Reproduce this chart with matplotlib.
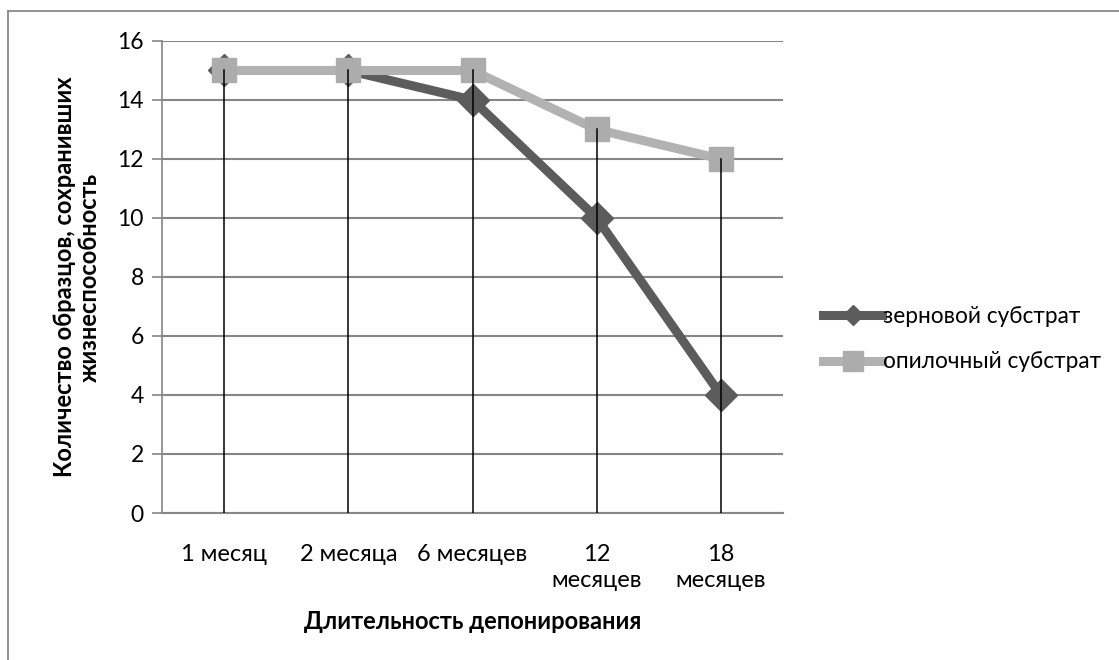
import matplotlib
matplotlib.use("Agg")
import matplotlib.pyplot as plt
from matplotlib.lines import Line2D

categories = ["1 месяц", "2 месяца", "6 месяцев", "12\nмесяцев", "18\nмесяцев"]
grain = [15, 15, 14, 10, 4]
sawdust = [15, 15, 15, 13, 12]
series_names = ["зерновой субстрат", "опилочный субстрат"]
y_ticks = [0, 2, 4, 6, 8, 10, 12, 14, 16]

plt.rcParams['font.family'] = ['Lato', 'DejaVu Sans']

fig = plt.figure(figsize=(11.19, 6.6), dpi=100)
W, H = 1119, 660
ax = fig.add_axes([162 / W, 1 - 513 / H, (783 - 162) / W, (513 - 41) / H])

x = list(range(len(categories)))
dark = "#5c5c5c"
light = "#b2b2b2"

ax.plot(x, grain, color=dark, lw=6.5, marker="D", ms=16, mfc=dark, mec=dark, zorder=3)
ax.plot(x, sawdust, color=light, lw=6.5, marker="s", ms=17, mfc="#acacac", mec="#acacac", zorder=4)

tops = [max(a, b) for a, b in zip(grain, sawdust)]
for i, t in enumerate(tops):
    ax.plot([x[i], x[i]], [0, t], color="black", lw=1.1, zorder=5)

ax.set_xlim(-0.5, len(categories) - 0.5)
ax.set_ylim(0, 16)
ax.set_yticks(y_ticks)
ax.set_xticks(x)
ax.set_xticklabels(categories, fontsize=17, linespacing=1.3)
ax.tick_params(axis="x", length=0, pad=22)
ax.tick_params(axis="y", length=7, color="#868686", width=1.2, labelsize=16.5, pad=6)
ax.yaxis.grid(True, color="#868686", lw=1.5)
ax.set_axisbelow(True)
for s in ["top", "right"]:
    ax.spines[s].set_visible(False)
ax.spines["left"].set_color("#868686")
ax.spines["left"].set_linewidth(1.2)
ax.spines["bottom"].set_color("#868686")
ax.spines["bottom"].set_linewidth(1.5)

ax.set_xlabel("Длительность депонирования", fontsize=17, fontweight="bold", labelpad=14)
ax.set_ylabel("Количество образцов, сохранивших\nжизнеспособность", fontsize=17,
              fontweight="bold", labelpad=12, linespacing=1.1)

handles = [
    Line2D([0], [0], color=dark, lw=6.5, marker="D", ms=10, mfc=dark, mec=dark),
    Line2D([0], [0], color=light, lw=6.5, marker="s", ms=14, mfc="#acacac", mec="#acacac"),
]
fig.legend(handles, series_names, loc="center left", bbox_to_anchor=(803 / W, 1 - 339 / H),
           frameon=False, fontsize=16.3, handlelength=2.6, handletextpad=0.05, labelspacing=1.1)

# chart-area border (top and left edges visible)
fig.add_artist(Line2D([8 / W, 8 / W], [0, 1 - 11 / H], color="#808080", lw=1.2, transform=fig.transFigure))
fig.add_artist(Line2D([8 / W, 1], [1 - 11 / H, 1 - 11 / H], color="#808080", lw=1.2, transform=fig.transFigure))

fig.savefig("out.png", dpi=100)
